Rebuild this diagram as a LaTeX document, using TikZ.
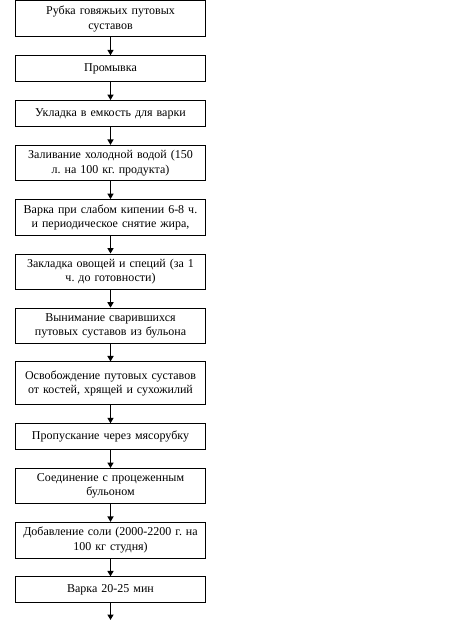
\documentclass[tikz,border=0pt]{standalone}
\usepackage{fontspec}
\setmainfont{Liberation Serif}
\usetikzlibrary{arrows.meta,positioning}
\definecolor{FlowLine}{HTML}{000000}
\frenchspacing

\begin{document}
\begin{tikzpicture}[
    x=1pt,y=-1pt,
    node distance=18pt,
    stagebox/.style={
      draw=FlowLine,
      line width=0.8pt,
      minimum width=189pt,
      minimum height=26pt,
      text width=184pt,
      align=center,
      inner ysep=5pt,
      font=\fontsize{12}{14.5}\selectfont
    },
    flowarrow/.style={
      -{Triangle[length=5.5pt,width=6pt]},
      FlowLine,
      line width=1.8pt
    }
  ]

    \useasboundingbox (0,0) rectangle (467,623);

    \node[stagebox,minimum height=36pt,anchor=north] (s1) at (110.5,0.5)
      {Рубка говяжьих путовых\\ суставов};

    \node[stagebox,below=of s1] (s2)
      {Промывка};

    \node[stagebox,below=of s2] (s3)
      {Укладка в емкость для варки};

    \node[stagebox,below=of s3] (s4)
      {Заливание холодной водой (150\\ л. на 100 кг. продукта)};

    \node[stagebox,below=of s4] (s5)
      {Варка при слабом кипении 6-8 ч.\\ и периодическое снятие жира,};

    \node[stagebox,below=of s5] (s6)
      {Закладка овощей и специй (за 1\\ ч. до готовности)};

    \node[stagebox,below=of s6] (s7)
      {Вынимание сварившихся\\ путовых суставов из бульона};

    \node[stagebox,minimum height=43pt,below=of s7] (s8)
      {Освобождение путовых суставов\\ от костей, хрящей и сухожилий};

    \node[stagebox,below=of s8] (s9)
      {Пропускание через мясорубку};

    \node[stagebox,below=of s9] (s10)
      {Соединение с процеженным\\ бульоном};

    \node[stagebox,below=of s10] (s11)
      {Добавление соли (2000-2200 г. на\\ 100 кг студня)};

    \node[stagebox,below=of s11] (s12)
      {Варка 20-25 мин};

    \coordinate (sEnd) at (110.5,620);

    \foreach \a/\b in {1/2,2/3,3/4,4/5,5/6,6/7,7/8,8/9,9/10,10/11,11/12}{
      \draw[flowarrow] (s\a.south) -- (s\b.north);
    }

    \draw[flowarrow] (s12.south) -- (sEnd);

  \end{tikzpicture}
\end{document}
